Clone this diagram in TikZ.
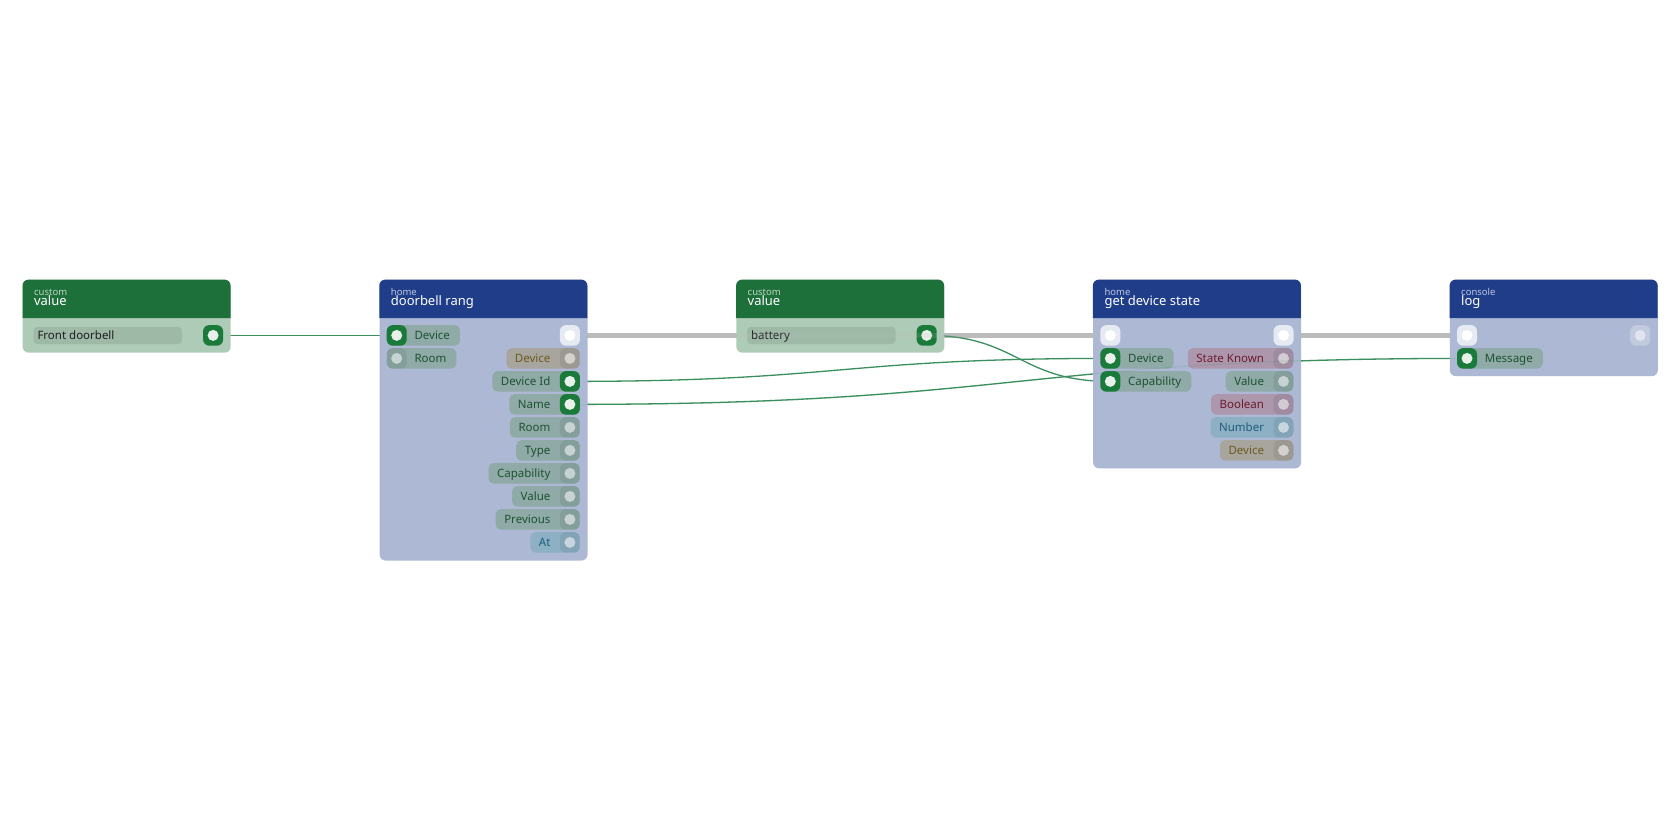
\documentclass[tikz,border=0pt]{standalone}
\usepackage{fontspec}
\newfontfamily\uif{Noto Sans}
\usetikzlibrary{calc}
\pgfdeclarelayer{bg}
\pgfdeclarelayer{wires}
\pgfsetlayers{bg,wires,main}

\definecolor{bodyBlue}{RGB}{173,185,212}
\definecolor{bodyGreen}{RGB}{174,203,183}
\definecolor{hdrBlue}{RGB}{31,61,137}
\definecolor{hdrGreen}{RGB}{29,112,57}
\definecolor{fieldFill}{RGB}{158,186,167}
\definecolor{fieldText}{RGB}{30,30,30}
\definecolor{pillTf}{RGB}{143,170,167}
\definecolor{pillTt}{RGB}{29,82,50}
\definecolor{pillBf}{RGB}{168,165,158}
\definecolor{pillBt}{RGB}{110,90,32}
\definecolor{pillPf}{RGB}{172,151,173}
\definecolor{pillPt}{RGB}{109,28,45}
\definecolor{pillNf}{RGB}{142,176,196}
\definecolor{pillNt}{RGB}{30,92,124}
\definecolor{portGreen}{RGB}{26,122,58}
\definecolor{portDot}{RGB}{232,240,234}
\definecolor{wireGreen}{RGB}{59,143,94}
\definecolor{execGrey}{RGB}{187,187,187}
\definecolor{smallGreen}{RGB}{187,213,194}
\definecolor{smallBlue}{RGB}{188,198,224}

\newcommand\nfSmall{\uif\fontsize{9.5pt}{11pt}\selectfont}
\newcommand\nfTitle{\uif\fontsize{13pt}{15pt}\selectfont}
\newcommand\nfRow{\uif\fontsize{11.5pt}{13pt}\selectfont}

\tikzset{
  nodebody/.style={minimum width=208pt, inner sep=0pt, rounded corners=6pt},
  pill/.style={inner xsep=10pt, inner ysep=0pt, minimum height=20.5pt,
    rounded corners=5pt, font=\nfRow, text height=8.2pt, text depth=0pt},
  opill/.style={inner xsep=8.6pt},
  pillT/.style={fill=pillTf, text=pillTt},
  pillB/.style={fill=pillBf, text=pillBt},
  pillP/.style={fill=pillPf, text=pillPt},
  pillN/.style={fill=pillNf, text=pillNt},
  portbox/.style={minimum width=20pt, minimum height=20.5pt, inner sep=0pt, rounded corners=6pt},
  portA/.style={portbox, fill=portGreen},
  portI/.style={portbox, fill=black, fill opacity=0.07},
  dotA/.style={fill=portDot},
  dotI/.style={fill=white, fill opacity=0.55},
  execA/.style={portbox, fill=white, fill opacity=0.7},
  execI/.style={portbox, fill=white, fill opacity=0.25},
  fieldbox/.style={fill=fieldFill, rounded corners=4pt, minimum width=148.4pt,
    minimum height=17.3pt, inner sep=0pt},
  fieldtext/.style={font=\nfRow, text=fieldText, inner sep=0pt, text height=8.2pt, text depth=0pt},
  wire/.style={draw=wireGreen, line width=1.3pt},
  execw/.style={draw=execGrey, line width=4.5pt},
  faint/.style={opacity=0.15, shorten >=11pt, shorten <=11pt}
}

% #1 name #2 left #3 height #4 header colour #5 body colour #6 small #7 title #8 small colour
\newcommand\nodeframe[8]{%
  \node[nodebody, fill=#5, minimum height=#3pt, anchor=north west] (#1) at (#2,279.6) {};
  \fill[#4] (#2,318.2) [rounded corners=6pt] -- (#2,279.6) -- (#2+208,279.6)
    [sharp corners] -- (#2+208,318.2) -- cycle;
  \node[anchor=base west, font=\nfSmall, text=#8, inner sep=0pt] (#1-cat) at (#2+11.4,295.6) {#6};
  \node[anchor=base west, font=\nfTitle, text=white, inner sep=0pt] (#1-title) at (#2+11.4,305.7) {#7};
}
\newcommand\port[4]{%
  \ifnum#4=1
    \node[portA] (#1) at (#2,#3) {};
    \fill[dotA] (#1.center) circle (5.5pt);
  \else
    \node[portI] (#1) at (#2,#3) {};
    \fill[dotI] (#1.center) circle (5.5pt);
  \fi
}
\newcommand\execport[4]{%
  \ifnum#4=1
    \node[execA] (#1) at (#2,#3) {};
    \fill[white] (#1.center) circle (5.5pt);
  \else
    \node[execI] (#1) at (#2,#3) {};
    \fill[white, fill opacity=0.5] (#1.center) circle (5.5pt);
  \fi
}
% #1 port name #2 node left #3 row #4 label #5 kind #6 active
\newcommand\inrow[6]{%
  \pgfmathsetmacro\ry{335.4+23*(#3-1)}%
  \node[pill, pill#5, anchor=west] (#1-pill) at (#2+7.4,\ry) {\hspace*{17.6pt}#4};
  \port{#1}{#2+17.4}{\ry}{#6}%
}
\newcommand\outrow[6]{%
  \pgfmathsetmacro\ry{335.4+23*(#3-1)}%
  \node[pill, opill, pill#5, anchor=east] (#1-pill) at (#2+200.6,\ry) {#4\hspace*{20.7pt}};
  \port{#1}{#2+190.6}{\ry}{#6}%
}
\newcommand\conn[3]{%
  \draw[#1] let \p1=(#2.center), \p2=(#3.center), \n1={0.5*(\x2-\x1)} in
    (\p1) .. controls +(\n1,0) and +(-\n1,0) .. (\p2);
}

\begin{document}
\begin{tikzpicture}[x=1pt,y=-1pt]
\begin{pgfonlayer}{bg}
  \fill[white] (0,0) rectangle (1680,840);
\end{pgfonlayer}
\useasboundingbox (0,0) rectangle (1680,840);

% custom value 1
\nodeframe{cv1}{22.5}{72.9}{hdrGreen}{bodyGreen}{custom}{value}{smallGreen}
\node[fieldbox, anchor=west] (cv1-f) at (22.5+10.8,335.4) {};
\node[fieldtext, anchor=west] (cv1-ft) at (22.5+14.8,335.4) {Front doorbell};
\port{cv1-o}{22.5+190.6}{335.4}{1}

% doorbell rang
\nodeframe{dr}{379.3}{280.7}{hdrBlue}{bodyBlue}{home}{doorbell rang}{smallBlue}
\inrow{dr-i1}{379.3}{1}{Device}{T}{1}
\inrow{dr-i2}{379.3}{2}{Room}{T}{0}
\execport{dr-xo}{379.3+190.6}{335.4}{1}
\outrow{dr-o2}{379.3}{2}{Device}{B}{0}
\outrow{dr-devid}{379.3}{3}{Device Id}{T}{1}
\outrow{dr-name}{379.3}{4}{Name}{T}{1}
\outrow{dr-o5}{379.3}{5}{Room}{T}{0}
\outrow{dr-o6}{379.3}{6}{Type}{T}{0}
\outrow{dr-o7}{379.3}{7}{Capability}{T}{0}
\outrow{dr-o8}{379.3}{8}{Value}{T}{0}
\outrow{dr-o9}{379.3}{9}{Previous}{T}{0}
\outrow{dr-o10}{379.3}{10}{At}{N}{0}

% custom value 2
\nodeframe{cv2}{736.1}{72.9}{hdrGreen}{bodyGreen}{custom}{value}{smallGreen}
\node[fieldbox, anchor=west] (cv2-f) at (736.1+10.8,335.4) {};
\node[fieldtext, anchor=west] (cv2-ft) at (736.1+14.8,335.4) {battery};
\port{cv2-o}{736.1+190.6}{335.4}{1}

% get device state
\nodeframe{gds}{1092.9}{188.6}{hdrBlue}{bodyBlue}{home}{get device state}{smallBlue}
\execport{gds-xi}{1092.9+17.4}{335.4}{1}
\execport{gds-xo}{1092.9+190.6}{335.4}{1}
\inrow{gds-dev}{1092.9}{2}{Device}{T}{1}
\inrow{gds-cap}{1092.9}{3}{Capability}{T}{1}
\outrow{gds-o2}{1092.9}{2}{State Known}{P}{0}
\outrow{gds-o3}{1092.9}{3}{Value}{T}{0}
\outrow{gds-o4}{1092.9}{4}{Boolean}{P}{0}
\outrow{gds-o5}{1092.9}{5}{Number}{N}{0}
\outrow{gds-o6}{1092.9}{6}{Device}{B}{0}

% console log
\nodeframe{log}{1449.6}{96.4}{hdrBlue}{bodyBlue}{console}{log}{smallBlue}
\execport{log-xi}{1449.6+17.4}{335.4}{1}
\execport{log-xo}{1449.6+190.6}{335.4}{0}
\inrow{log-msg}{1449.6}{2}{Message}{T}{1}

% connectors
\begin{pgfonlayer}{wires}
  \draw[execw] (dr-xo.center) -- (gds-xi.center);
  \draw[execw] (gds-xo.center) -- (log-xi.center);
  \conn{wire}{cv1-o}{dr-i1}
  \conn{wire}{dr-devid}{gds-dev}
  \conn{wire}{dr-name}{log-msg}
  \conn{wire}{cv2-o}{gds-cap}
\end{pgfonlayer}
% faint show-through where connectors pass behind nodes
\draw[execw, faint] (dr-xo.center) -- (gds-xi.center);
\conn{wire, faint}{dr-name}{log-msg}
\end{tikzpicture}
\end{document}
